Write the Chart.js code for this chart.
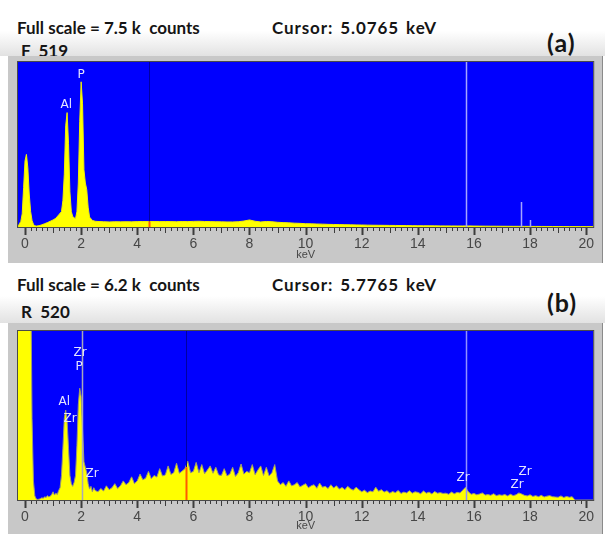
<!DOCTYPE html>
<html>
<head>
<meta charset="utf-8">
<script src="https://cdn.jsdelivr.net/npm/chart.js@4.4.1/dist/chart.umd.min.js"></script>
<style>
  body { margin: 0; background: #fff; width: 605px; height: 534px; position: relative; overflow: hidden; font-family: Lato, "Open Sans", sans-serif; }
  .head { position: absolute; left: 0; width: 605px; background: linear-gradient(#ffffff 55%, #e2e2e2); }
  .txt { position: absolute; font-weight: bold; white-space: pre; line-height: 1; color: #151515; font-size: 17px; }
  .cur { letter-spacing: 0.9px; word-spacing: 2px; }
  .tag { font-size: 25px; letter-spacing: 1px; }
  .frame { position: absolute; left: 8px; width: 595px; background: #c8c8c8; box-shadow: inset -1px 0 0 #8a8a8a; }
  canvas { display: block; }
</style>
</head>
<body>
<div class="head" style="top:0;height:56px"></div>
<div class="txt" style="left:17px;top:19px">Full scale = 7.5 k  counts</div>
<div class="txt cur" style="left:272px;top:19px">Cursor: 5.0765 keV</div>
<div class="txt" style="left:21px;top:42px">F  519</div>
<div class="txt tag" style="left:547px;top:30px">(a)</div>
<div class="frame" style="top:56px;height:207px"><canvas id="specA" width="595" height="207"></canvas></div>

<div class="head" style="top:263px;height:60px"></div>
<div class="txt" style="left:17px;top:276px">Full scale = 6.2 k  counts</div>
<div class="txt cur" style="left:272px;top:276px">Cursor: 5.7765 keV</div>
<div class="txt" style="left:21px;top:303px">R  520</div>
<div class="txt tag" style="left:547px;top:290px">(b)</div>
<div class="frame" style="top:323px;height:211px"><canvas id="specB" width="595" height="211"></canvas></div>

<script>
// spectrum F 519 (energy in keV, counts)
const energyA = [
  -0.25, -0.2, -0.15, -0.1, -0.05, 0, 0.05, 0.1, 0.15, 0.2,
  0.25, 0.3, 0.35, 0.4, 0.5, 0.6, 0.7, 0.8, 0.9, 1.0,
  1.1, 1.2, 1.3, 1.35, 1.4, 1.45, 1.5, 1.55, 1.6, 1.65,
  1.7, 1.75, 1.8, 1.85, 1.9, 1.95, 2.0, 2.05, 2.1, 2.15,
  2.2, 2.25, 2.3, 2.4, 2.5,
  2.6, 2.8, 3.0, 3.2, 3.4, 3.6, 3.8, 4.0, 4.2, 4.4,
  4.6, 4.8, 5.0, 5.2, 5.4, 5.6, 5.8, 6.0, 6.2, 6.4,
  6.6, 6.8, 7.0, 7.2, 7.4, 7.6, 7.8, 8.0, 8.2, 8.4,
  8.6, 8.8, 9.0, 9.2, 9.4, 9.6, 9.8, 10.0, 10.2, 10.4,
  10.6, 10.8, 11.0, 11.2, 11.4, 11.6, 11.8, 12.0, 12.2, 12.4,
  12.6, 12.8, 13.0, 13.2, 13.4, 13.6, 13.8, 14.0, 14.2, 14.4,
  14.6, 14.8, 15.0, 15.2, 15.4, 15.6, 15.8, 16.0, 16.2, 16.4,
  16.6, 16.8, 17.0, 17.2, 17.4, 17.6, 17.8, 18.0, 18.2, 18.4,
  18.6, 18.8, 19.0, 19.2, 19.4, 19.6, 19.8, 20.0, 20.25
];
const countsA = [
  0, 150, 250, 600, 1800, 3000, 3300, 2700, 1500, 700,
  300, 120, 60, 40, 60, 100, 150, 200, 260, 320,
  400, 550, 700, 1200, 2400, 4600, 5200, 3800, 1600, 700,
  480, 420, 380, 700, 2000, 4800, 6600, 5600, 2600, 2000,
  1700, 900, 450, 300, 260,
  250, 240, 230, 240, 235, 240, 235, 245, 250, 245,
  250, 245, 250, 245, 240, 250, 245, 255, 260, 250,
  245, 240, 235, 230, 230, 240, 270, 320, 260, 230,
  250, 240, 215, 200, 190, 175, 165, 150, 145, 135,
  130, 120, 115, 110, 105, 100, 95, 90, 85, 80,
  78, 75, 72, 70, 66, 64, 60, 58, 55, 54,
  52, 50, 48, 47, 45, 46, 50, 42, 40, 38,
  36, 35, 33, 32, 30, 30, 28, 27, 26, 25,
  24, 23, 22, 21, 20, 20, 18, 18, 18
];

// spectrum R 520: peak region, then continuum
const peakEnergyB = [
  -0.25, 0.2, 0.25, 0.3, 0.35, 0.4, 0.45, 0.5, 0.55, 0.6,
  0.65, 0.7, 0.75, 0.8, 0.85, 0.9, 0.95, 1.0, 1.05, 1.1,
  1.15, 1.2, 1.25, 1.3, 1.35, 1.4, 1.45, 1.5, 1.55, 1.6,
  1.65, 1.7, 1.75, 1.8, 1.85, 1.9, 1.95, 2.0, 2.05, 2.1,
  2.15, 2.2, 2.25, 2.3, 2.35, 2.4, 2.45, 2.5
];
const peakCountsB = [
  9000, 9000, 3000, 700, 150, 40, 20, 30, 50, 80,
  60, 120, 90, 160, 110, 140, 200, 300, 180, 250,
  200, 350, 450, 900, 1900, 3000, 3300, 2900, 1900, 900,
  600, 500, 650, 900, 2000, 3500, 4100, 3800, 2600, 1400,
  1200, 1000, 600, 400, 500, 300, 450, 350
];
const contEnergyB = [
  2.6, 2.7, 2.8, 2.9,
  3.0, 3.1, 3.2, 3.3, 3.4, 3.5, 3.6, 3.7, 3.8, 3.9,
  4.0, 4.1, 4.2, 4.3, 4.4, 4.5, 4.6, 4.7, 4.8, 4.9,
  5.0, 5.1, 5.2, 5.3, 5.4, 5.5, 5.6, 5.7, 5.8, 5.9,
  6.0, 6.1, 6.2, 6.3, 6.4, 6.5, 6.6, 6.7, 6.8, 6.9,
  7.0, 7.1, 7.2, 7.3, 7.4, 7.5, 7.6, 7.7, 7.8, 7.9,
  8.0, 8.1, 8.2, 8.3, 8.4, 8.5, 8.6, 8.7, 8.8, 8.9,
  9.0, 9.1, 9.2, 9.3, 9.4, 9.5, 9.6, 9.7, 9.8, 9.9,
  10.0, 10.1, 10.2, 10.3, 10.4, 10.5, 10.6, 10.7, 10.8, 10.9,
  11.0, 11.1, 11.2, 11.3, 11.4, 11.5, 11.6, 11.7, 11.8, 11.9,
  12.0, 12.1, 12.2, 12.3, 12.4, 12.5, 12.6, 12.7, 12.8, 12.9,
  13.0, 13.1, 13.2, 13.3, 13.4, 13.5, 13.6, 13.7, 13.8, 13.9,
  14.0, 14.1, 14.2, 14.3, 14.4, 14.5, 14.6, 14.7, 14.8, 14.9,
  15.0, 15.1, 15.2, 15.3, 15.4, 15.5, 15.6, 15.7, 15.8, 15.9,
  16.0, 16.1, 16.2, 16.3, 16.4, 16.5, 16.6, 16.7, 16.8, 16.9,
  17.0, 17.1, 17.2, 17.3, 17.4, 17.5, 17.6, 17.7, 17.8, 17.9,
  18.0, 18.1, 18.2, 18.3, 18.4, 18.5, 18.6, 18.7, 18.8, 18.9,
  19.0, 19.1, 19.2, 19.3, 19.4, 19.5, 19.6, 20.25
];
const contCountsB = [
  300, 420, 330, 520,
  380, 450, 600, 420, 520, 700, 560, 640, 850, 600,
  700, 950, 740, 800, 1050, 780, 900, 840, 1150, 880,
  920, 1250, 940, 1000, 1350, 980, 1060, 1150, 1420, 1000,
  1050, 1380, 1000, 1300, 960, 1100, 1250, 980, 1200, 920,
  900, 1150, 880, 950, 1200, 860, 1000, 1320, 950, 1050,
  1000, 1300, 930, 1100, 1250, 900, 1200, 880, 1000, 1300,
  700, 560, 640, 500, 700, 520, 560, 640, 480, 540,
  600, 450, 520, 560, 430, 620, 470, 500, 420, 560,
  440, 520, 400, 460, 380, 500, 410, 360, 470, 380,
  300, 360, 270, 330, 300, 470, 320, 380, 290, 340,
  250, 310, 270, 350, 240, 290, 260, 340, 250, 300,
  280, 230, 330, 250, 290, 220, 310, 250, 270, 240,
  250, 210, 290, 230, 280, 260, 360, 470, 300, 210,
  240, 190, 220, 260, 180, 200, 170, 230, 160, 190,
  170, 200, 150, 210, 160, 190, 260, 220, 170, 150,
  190, 130, 160, 120, 170, 110, 140, 160, 120, 110,
  100, 150, 90, 130, 100, 120, 0, 0
];
const energyB = peakEnergyB.concat(contEnergyB);
const countsB = peakCountsB.concat(contCountsB);

const fullScaleA = 7500;
const fullScaleB = 6200;
const cursorA = 4.42;
const cursorB = 5.72;

// element marker lines: energy and the count level where each line starts
const markerKeVA = [15.72, 17.67, 17.98];
const markerTopA = [7500, 1140, 320];
const markerKeVB = [2.02, 15.72];
const markerTopB = [6200, 6200];

// peak identification labels
const peakNamesA = ['Al', 'P'];
const peakKeVA = [1.47, 2.0];
const peakLevelA = [5550, 6900];
const peakNamesB = ['Zr', 'P', 'Al', 'Zr', 'Zr', 'Zr', 'Zr', 'Zr'];
const peakKeVB = [1.96, 1.93, 1.4, 1.61, 2.39, 15.61, 17.82, 17.54];
const peakLevelB = [5400, 4880, 3600, 2970, 950, 810, 1030, 550];

function countsAt(energy, counts, e) {
  for (let i = 0; i < energy.length - 1; i++) {
    if (e >= energy[i] && e <= energy[i + 1]) {
      const t = (e - energy[i]) / (energy[i + 1] - energy[i]);
      return counts[i] + t * (counts[i + 1] - counts[i]);
    }
  }
  return 0;
}

const spectrumDecor = {
  id: 'spectrumDecor',
  beforeDatasetsDraw(chart) {
    const { ctx, chartArea: a } = chart;
    ctx.save();
    ctx.fillStyle = '#0000fe';
    ctx.fillRect(a.left, a.top, a.right - a.left, a.bottom - a.top);
    ctx.restore();
  },
  afterDatasetsDraw(chart, args, opts) {
    const { ctx, chartArea: a } = chart;
    const x = chart.scales.x, y = chart.scales.y;
    ctx.save();
    ctx.beginPath();
    ctx.rect(a.left, a.top, a.right - a.left, a.bottom - a.top);
    ctx.clip();

    // marker lines
    opts.markerKeV.forEach((e, i) => {
      const px = Math.round(x.getPixelForValue(e)) + 0.5;
      ctx.strokeStyle = opts.markerColors[i];
      ctx.lineWidth = 1.5;
      ctx.beginPath();
      ctx.moveTo(px, Math.max(a.top, y.getPixelForValue(opts.markerTop[i])));
      ctx.lineTo(px, a.bottom);
      ctx.stroke();
    });

    // cursor: dark over the background, orange over the spectrum
    const cx = Math.round(x.getPixelForValue(opts.cursor)) + 0.5;
    const level = Math.max(a.top, y.getPixelForValue(countsAt(opts.energy, opts.counts, opts.cursor)));
    ctx.lineWidth = 1;
    ctx.strokeStyle = '#0000a0';
    ctx.beginPath(); ctx.moveTo(cx, a.top); ctx.lineTo(cx, level); ctx.stroke();
    ctx.lineWidth = 2;
    ctx.strokeStyle = '#ff5a00';
    ctx.beginPath(); ctx.moveTo(cx, level); ctx.lineTo(cx, a.bottom); ctx.stroke();

    // peak labels
    ctx.fillStyle = '#e4e4ff';
    ctx.font = '12px "DejaVu Sans"';
    ctx.textAlign = 'center';
    ctx.textBaseline = 'middle';
    opts.names.forEach((n, i) => {
      ctx.fillText(n, x.getPixelForValue(opts.nameKeV[i]), y.getPixelForValue(opts.nameLevel[i]));
    });
    ctx.restore();

    // plot frame
    ctx.save();
    ctx.strokeStyle = '#4a4a4a';
    ctx.lineWidth = 1;
    ctx.strokeRect(a.left - 0.5, a.top - 0.5, a.right - a.left + 1, a.bottom - a.top + 1);

    // axis tick marks every 0.2 keV
    ctx.strokeStyle = '#3c3c3c';
    for (let k = 0; k <= 100; k++) {
      const px = Math.round(x.getPixelForValue(k / 5)) + 0.5;
      const len = k % 10 === 0 ? 7 : (k % 5 === 0 ? 5 : 3);
      ctx.lineWidth = k % 10 === 0 ? 2 : 1;
      ctx.beginPath();
      ctx.moveTo(px, a.bottom + 1);
      ctx.lineTo(px, a.bottom + 1 + len);
      ctx.stroke();
    }
    ctx.restore();
  }
};

function makeSpectrum(id, energy, counts, fullScale, axisHeight, padTop, decor, edgeColor) {
  return new Chart(document.getElementById(id), {
    type: 'line',
    data: {
      datasets: [{
        data: energy.map((e, i) => ({ x: e, y: counts[i] })),
        borderColor: edgeColor,
        borderWidth: 1,
        backgroundColor: '#ffff00',
        fill: 'origin',
        pointRadius: 0,
        tension: 0
      }]
    },
    options: {
      responsive: false,
      animation: false,
      layout: { padding: { left: 10, right: 1, top: padTop, bottom: 0 } },
      plugins: {
        legend: { display: false },
        tooltip: { enabled: false },
        spectrumDecor: decor
      },
      scales: {
        x: {
          type: 'linear',
          min: -0.25,
          max: 20.25,
          grid: { display: false, drawTicks: false },
          border: { display: false },
          ticks: {
            stepSize: 2,
            includeBounds: false,
            padding: 9,
            maxRotation: 0,
            color: '#474747',
            font: { family: '"Liberation Sans"', size: 14 }
          },
          title: {
            display: true,
            text: 'keV',
            color: '#474747',
            font: { family: '"Liberation Sans"', size: 11 },
            padding: { top: 0, bottom: 1 }
          },
          afterFit: s => { s.height = axisHeight; }
        },
        y: { display: false, min: 0, max: fullScale }
      }
    },
    plugins: [spectrumDecor]
  });
}

makeSpectrum('specA', energyA, countsA, fullScaleA, 36, 6, {
  cursor: cursorA, energy: energyA, counts: countsA,
  markerKeV: markerKeVA, markerTop: markerTopA,
  markerColors: ['#a4a4ff', '#a4a4ff', '#a4a4ff'],
  names: peakNamesA, nameKeV: peakKeVA, nameLevel: peakLevelA
}, '#f0f000');

makeSpectrum('specB', energyB, countsB, fullScaleB, 34, 8, {
  cursor: cursorB, energy: energyB, counts: countsB,
  markerKeV: markerKeVB, markerTop: markerTopB,
  markerColors: ['#a8a8b8', '#9090ff'],
  names: peakNamesB, nameKeV: peakKeVB, nameLevel: peakLevelB
}, '#9c9a70');
</script>
</body>
</html>
